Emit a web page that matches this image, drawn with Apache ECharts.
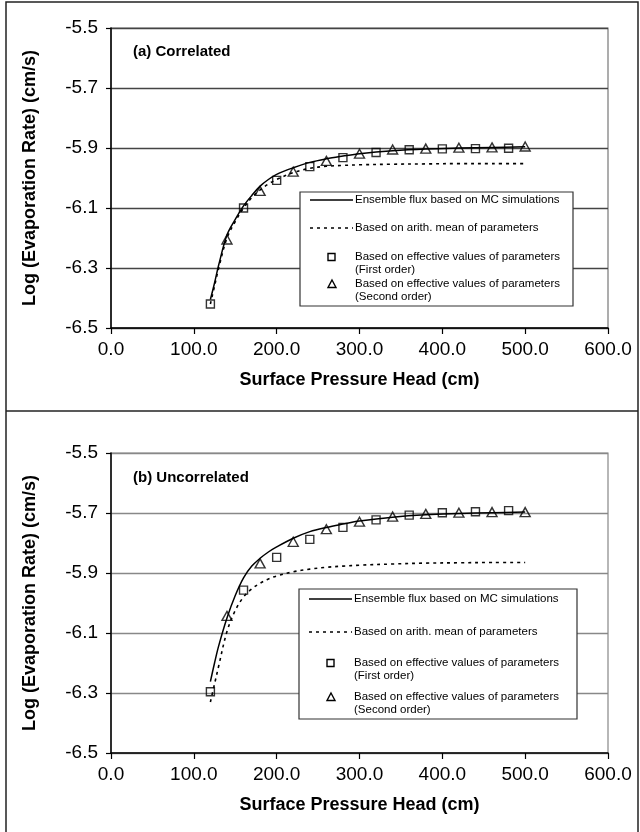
<!DOCTYPE html>
<html>
<head>
<meta charset="utf-8">
<script src="https://cdn.jsdelivr.net/npm/echarts@6/dist/echarts.min.js"></script>
<style>
html, body { margin: 0; padding: 0; background: #fff; }
#main { width: 640px; height: 832px; }
</style>
</head>
<body>
<div id="main"></div>
<script>
// x positions of the curves (cm)
var curveX = [120, 125, 130, 140, 150, 160, 170, 180, 190, 200, 220, 240, 260, 280, 300, 340, 380, 420, 460, 500];
// marker positions
var squareX = [120, 160, 200, 240, 280, 320, 360, 400, 440, 480];
var triangleX = [140, 180, 220, 260, 300, 340, 380, 420, 460, 500];

// (a) Correlated
var aEnsemble = [-6.405, -6.35, -6.29, -6.19, -6.138, -6.093, -6.058, -6.027, -6.005, -5.988, -5.966, -5.948, -5.936, -5.927, -5.919, -5.909, -5.903, -5.900, -5.898, -5.896];
var aArith = [-6.42, -6.36, -6.30, -6.20, -6.145, -6.10, -6.065, -6.04, -6.02, -6.005, -5.982, -5.968, -5.961, -5.958, -5.956, -5.954, -5.953, -5.952, -5.952, -5.952];
var aFirst = [-6.42, -6.10, -6.008, -5.962, -5.932, -5.915, -5.906, -5.903, -5.902, -5.901];
var aSecond = [-6.205, -6.043, -5.979, -5.943, -5.919, -5.905, -5.902, -5.899, -5.898, -5.895];

// (b) Uncorrelated
var bEnsemble = [-6.262, -6.20, -6.143, -6.05, -5.975, -5.916, -5.877, -5.851, -5.830, -5.813, -5.784, -5.762, -5.748, -5.737, -5.727, -5.714, -5.706, -5.702, -5.699, -5.697];
var bArith = [-6.33, -6.27, -6.21, -6.095, -6.025, -5.98, -5.953, -5.934, -5.92, -5.91, -5.896, -5.887, -5.881, -5.877, -5.874, -5.870, -5.867, -5.866, -5.865, -5.865];
var bFirst = [-6.296, -5.957, -5.848, -5.788, -5.748, -5.723, -5.707, -5.699, -5.696, -5.692];
var bSecond = [-6.043, -5.868, -5.796, -5.754, -5.729, -5.712, -5.703, -5.699, -5.697, -5.697];

var legendNames = [
    'Ensemble flux based on MC simulations',
    'Based on arith. mean of parameters',
    'Based on effective values of parameters\n(First order)',
    'Based on effective values of parameters\n(Second order)'
];

var FONT = '"Liberation Sans", Arial, sans-serif';

function zip(xs, ys) {
    return xs.map(function (x, i) { return [x, ys[i]]; });
}

function xAxisFor(idx) {
    return {
        gridIndex: idx, type: 'value', min: 0, max: 600, interval: 100,
        name: 'Surface Pressure Head (cm)', nameLocation: 'middle', nameGap: 43,
        nameTextStyle: {fontFamily: FONT, fontSize: 18, fontWeight: 'bold', color: '#000'},
        axisLine: {lineStyle: {color: '#000', width: 1.5}},
        axisTick: {inside: false, length: 6, lineStyle: {color: '#000', width: 1.2}},
        axisLabel: {margin: 12, fontFamily: FONT, fontSize: 19, color: '#000',
            formatter: function (v) { return v.toFixed(1); }},
        splitLine: {show: false}
    };
}

function yAxisFor(idx, gridColor) {
    return {
        gridIndex: idx, type: 'value', min: -6.5, max: -5.5, interval: 0.2,
        name: 'Log (Evaporation Rate) (cm/s)', nameLocation: 'middle', nameGap: 72,
        nameTextStyle: {fontFamily: FONT, fontSize: 18, fontWeight: 'bold', color: '#000'},
        axisLine: {lineStyle: {color: '#000', width: 1.5}},
        axisTick: {inside: false, length: 5, lineStyle: {color: '#000', width: 1.2}},
        axisLabel: {margin: 13, fontFamily: FONT, fontSize: 19, color: '#000',
            formatter: function (v) { return v.toFixed(1); }},
        splitLine: {show: true, lineStyle: {color: gridColor, width: 1.3}}
    };
}

function seriesFor(idx, ens, arith, first, second) {
    return [
        {type: 'line', xAxisIndex: idx, yAxisIndex: idx, data: zip(curveX, ens), smooth: 0.35,
            showSymbol: false, lineStyle: {color: '#000', width: 1.5}, z: 3},
        {type: 'line', xAxisIndex: idx, yAxisIndex: idx, data: zip(curveX, arith), smooth: 0.35,
            showSymbol: false, lineStyle: {color: '#000', width: 1.6, type: [3, 4]}, z: 3},
        {type: 'scatter', xAxisIndex: idx, yAxisIndex: idx, data: zip(squareX, first),
            symbol: 'rect', symbolSize: 8,
            itemStyle: {color: 'rgba(255,255,255,0)', borderColor: '#000', borderWidth: 1.4}, z: 4},
        {type: 'scatter', xAxisIndex: idx, yAxisIndex: idx, data: zip(triangleX, second),
            symbol: 'triangle', symbolSize: [10, 9],
            itemStyle: {color: 'rgba(255,255,255,0)', borderColor: '#000', borderWidth: 1.4}, z: 4}
    ];
}

// legend drawn as a boxed key, rows: [line, dotted, square, triangle] centre y
function legendGraphic(box, rows) {
    var textStyle = function (txt, y, top) {
        return {type: 'text', x: box.x + 55, y: y, z: 20,
            style: {text: txt, fill: '#000', font: '11.5px ' + FONT, lineHeight: 13.5,
                verticalAlign: top ? 'top' : 'middle'}};
    };
    return [
        {type: 'rect', shape: {x: box.x, y: box.y, width: box.w, height: box.h}, z: 19,
            style: {fill: '#fff', stroke: '#333', lineWidth: 1.2}},
        {type: 'line', shape: {x1: box.x + 10, y1: rows[0], x2: box.x + 53, y2: rows[0]}, z: 20,
            style: {stroke: '#000', lineWidth: 1.3}},
        {type: 'line', shape: {x1: box.x + 10, y1: rows[1], x2: box.x + 53, y2: rows[1]}, z: 20,
            style: {stroke: '#000', lineWidth: 1.6, lineDash: [3, 4]}},
        {type: 'rect', shape: {x: box.x + 28, y: rows[2] - 3.5, width: 7, height: 7}, z: 20,
            style: {fill: 'none', stroke: '#000', lineWidth: 1.4}},
        {type: 'polygon', shape: {points: [[box.x + 32, rows[3] - 4], [box.x + 36, rows[3] + 3.5], [box.x + 28, rows[3] + 3.5]]}, z: 20,
            style: {fill: 'none', stroke: '#000', lineWidth: 1.4}},
        textStyle(legendNames[0], rows[0], false),
        textStyle(legendNames[1], rows[1], false),
        textStyle(legendNames[2], rows[2] - 7, true),
        textStyle(legendNames[3], rows[3] - 7, true)
    ];
}

var frame = [
    {type: 'polyline', shape: {points: [[6, 834], [6, 2], [638, 2], [638, 834]]},
        style: {fill: 'none', stroke: '#222', lineWidth: 1.5}},
    {type: 'line', shape: {x1: 6, y1: 411, x2: 638, y2: 411}, style: {stroke: '#222', lineWidth: 1.5}}
];

var chart = echarts.init(document.getElementById('main'));
var option = {
    backgroundColor: '#fff',
    animation: false,
    title: [
        {text: '(a) Correlated', left: 128, top: 39,
            textStyle: {fontFamily: FONT, fontSize: 15, fontWeight: 'bold', color: '#000'}},
        {text: '(b) Uncorrelated', left: 128, top: 465,
            textStyle: {fontFamily: FONT, fontSize: 15, fontWeight: 'bold', color: '#000'}}
    ],
    grid: [
        {left: 111, top: 28, width: 497, height: 300, show: true, borderColor: '#777', borderWidth: 1.2},
        {left: 111, top: 453, width: 497, height: 300, show: true, borderColor: '#888', borderWidth: 1.2}
    ],
    xAxis: [xAxisFor(0), xAxisFor(1)],
    yAxis: [yAxisFor(0, '#444'), yAxisFor(1, '#888')],
    series: seriesFor(0, aEnsemble, aArith, aFirst, aSecond)
        .concat(seriesFor(1, bEnsemble, bArith, bFirst, bSecond)),
    graphic: frame
        .concat(legendGraphic({x: 300, y: 192, w: 273, h: 114}, [200, 228, 257, 284]))
        .concat(legendGraphic({x: 299, y: 589, w: 278, h: 130}, [599, 632, 663, 697]))
};
chart.setOption(option);
</script>
</body>
</html>
